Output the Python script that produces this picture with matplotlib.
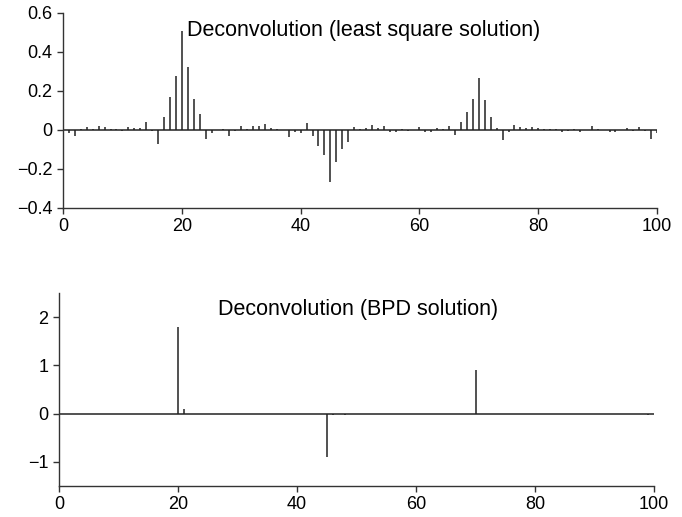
import numpy as np
import matplotlib

matplotlib.use("Agg")
import matplotlib.pyplot as plt

plt.rcParams["font.family"] = ["Liberation Sans", "DejaVu Sans"]

# sample index 0..100
n = np.arange(0, 101)

# least-square deconvolution
ls_vals = [
    0.0,
    -0.014, -0.030, 0.007, 0.015, 0.002, 0.022, 0.014, 0.005, 0.007, -0.007,
    0.017, 0.012, 0.009, 0.040, -0.007, -0.070, 0.064, 0.167, 0.278, 0.508,
    0.320, 0.160, 0.080, -0.046, -0.017, -0.003, 0.002, -0.034, -0.005, 0.019,
    0.007, 0.022, 0.019, 0.029, 0.009, 0.003, 0.001, -0.036, -0.009, -0.015,
    0.034, -0.029, -0.082, -0.127, -0.266, -0.165, -0.100, -0.064, 0.015, 0.007,
    0.009, 0.026, 0.012, 0.019, -0.012, -0.012, 0.003, -0.007, 0.001, 0.014,
    -0.012, -0.009, 0.009, 0.005, 0.020, -0.026, 0.040, 0.094, 0.156, 0.268,
    0.153, 0.064, 0.012, -0.052, -0.012, 0.027, 0.014, 0.009, 0.017, 0.012,
    0.007, 0.007, 0.005, -0.012, -0.007, 0.003, -0.009, 0.001, 0.019, 0.003,
    0.001, -0.009, -0.012, 0.001, 0.012, -0.005, 0.014, -0.007, -0.046, -0.015,
]

# BPD (sparse) deconvolution
bpd_vals = np.zeros(101)
bpd_idx = [20, 21, 45, 46, 48, 70, 99]
bpd_amp = [1.79, 0.10, -0.90, -0.03, -0.03, 0.91, -0.03]
bpd_vals[bpd_idx] = bpd_amp

fig = plt.figure(figsize=(6.82, 5.17), dpi=100)
ax1 = fig.add_axes([0.0924, 0.598, 0.871, 0.377])
ax2 = fig.add_axes([0.0865, 0.060, 0.8725, 0.373])

STEM = "#222222"


def style(ax):
    for s in ("top", "right"):
        ax.spines[s].set_visible(False)
    for s in ("left", "bottom"):
        ax.spines[s].set_linewidth(1.0)
        ax.spines[s].set_color("#333333")
    ax.tick_params(direction="out", length=4, width=1.0, labelsize=13, colors="#333333")
    ax.tick_params(labelcolor="black")
    ax.set_xlim(0, 100)
    ax.set_xticks([0, 20, 40, 60, 80, 100])


for ax, vals in ((ax1, ls_vals), (ax2, bpd_vals)):
    ax.vlines(n, 0, vals, color=STEM, lw=1.1)
    ax.plot([n[0], n[-1]], [0, 0], color=STEM, lw=1.1)
    style(ax)

ax1.set_ylim(-0.4, 0.6)
ax1.set_yticks([-0.4, -0.2, 0, 0.2, 0.4, 0.6])
ax1.set_yticklabels(["\u22120.4", "\u22120.2", "0", "0.2", "0.4", "0.6"])
ax1.text(20.8, 0.51, "Deconvolution (least square solution)", fontsize=15.5, va="center", ha="left")

ax2.set_ylim(-1.5, 2.5)
ax2.set_yticks([-1, 0, 1, 2])
ax2.set_yticklabels(["\u22121", "0", "1", "2"])
ax2.text(26.8, 2.16, "Deconvolution (BPD solution)", fontsize=15.5, va="center", ha="left")

fig.savefig("out.png", dpi=100)
